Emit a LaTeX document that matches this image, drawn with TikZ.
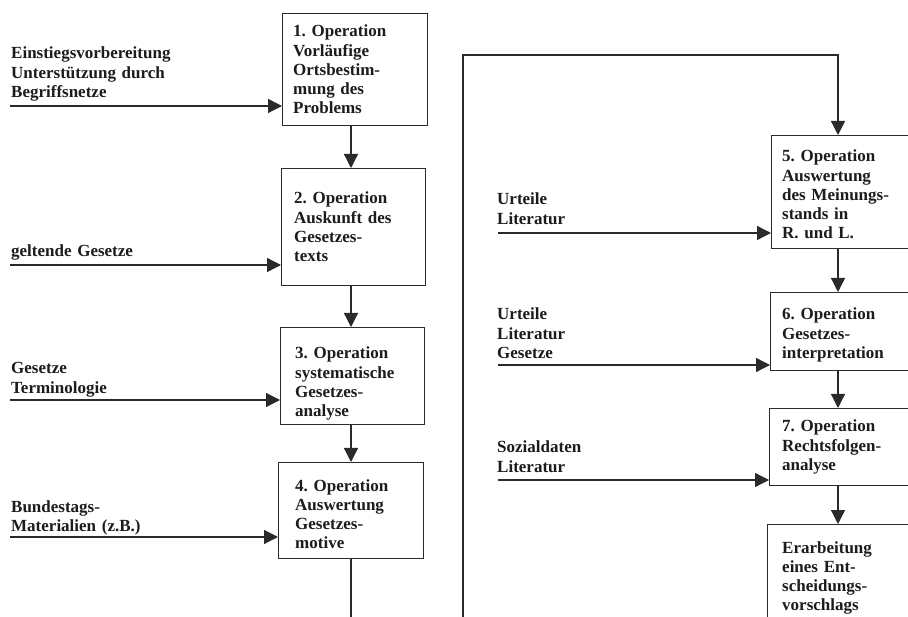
\documentclass[tikz,border=0pt]{standalone}
\usepackage{fontspec}
\setmainfont{Liberation Serif}
\usetikzlibrary{arrows.meta}
\definecolor{ink}{HTML}{2A2A2A}
\definecolor{txt}{HTML}{1C1C1C}
\frenchspacing
\begin{document}
\begin{tikzpicture}[x=1pt,y=-1pt,
  line/.style={draw=ink,line width=1.3pt},
  arr/.style={line,-{Triangle[length=14pt,width=14pt]}},
  frame/.style={line,rectangle,inner sep=0pt,anchor=north west},
  txtblock/.style={anchor=base west,inner sep=0pt,text width=150pt,align=left,
    text=txt,font=\bfseries\fontsize{17}{19.2}\selectfont}]
\clip (0,0) rectangle (908,617);
\fill[white] (0,0) rectangle (908,617);

% left column of operations
\node[frame,minimum width=145pt,minimum height=112pt] (b1) at (282,13) {};
\node[frame,minimum width=144pt,minimum height=117pt] (b2) at (281,168) {};
\node[frame,minimum width=144pt,minimum height=97pt]  (b3) at (280,327) {};
\node[frame,minimum width=145pt,minimum height=96pt]  (b4) at (278,462) {};

\node[txtblock] (t1) at (293,37)  {1. Operation\\Vorläufige\\Ortsbestim-\\mung des\\Problems};
\node[txtblock] (t2) at (294,204) {2. Operation\\Auskunft des\\Gesetzes-\\texts};
\node[txtblock] (t3) at (295,359) {3. Operation\\systematische\\Gesetzes-\\analyse};
\node[txtblock] (t4) at (295,491) {4. Operation\\Auswertung\\Gesetzes-\\motive};

% right column of operations
\node[frame,minimum width=160pt,minimum height=113pt] (b5) at (771,135) {};
\node[frame,minimum width=160pt,minimum height=78pt]  (b6) at (770,292) {};
\node[frame,minimum width=160pt,minimum height=77pt]  (b7) at (769,408) {};
\node[frame,minimum width=160pt,minimum height=108pt] (b8) at (767,524) {};

\node[txtblock] (t5) at (782,162) {5. Operation\\Auswertung\\des Meinungs-\\stands in\\R. und L.};
\node[txtblock] (t6) at (782,320) {6. Operation\\Gesetzes-\\interpretation};
\node[txtblock] (t7) at (782,432) {7. Operation\\Rechtsfolgen-\\analyse};
\node[txtblock] (t8) at (782,553) {Erarbeitung\\eines Ent-\\scheidungs-\\vorschlags};

% flow columns
\coordinate (lc) at (351,0);
\coordinate (rc) at (838,0);
\coordinate (loopturn) at (463,55);

\draw[arr] (lc |- b1.south) -- (lc |- b2.north);
\draw[arr] (lc |- b2.south) -- (lc |- b3.north);
\draw[arr] (lc |- b3.south) -- (lc |- b4.north);
\draw[arr] (lc |- b4.south) -- ++(0,100) -| (loopturn) -| (rc |- b5.north);
\draw[arr] (rc |- b5.south) -- (rc |- b6.north);
\draw[arr] (rc |- b6.south) -- (rc |- b7.north);
\draw[arr] (rc |- b7.south) -- (rc |- b8.north);

% inputs on the left
\coordinate (i1) at (10,106);
\coordinate (i2) at (10,265);
\coordinate (i3) at (10,400);
\coordinate (i4) at (10,537);
\draw[arr] (i1) -- (i1 -| b1.west);
\draw[arr] (i2) -- (i2 -| b2.west);
\draw[arr] (i3) -- (i3 -| b3.west);
\draw[arr] (i4) -- (i4 -| b4.west);

\node[txtblock,text width=250pt] (l1) at (11,59)  {Einstiegsvorbereitung\\Unterstützung durch\\Begriffsnetze};
\node[txtblock,text width=250pt] (l2) at (11,257) {geltende Gesetze};
\node[txtblock,text width=250pt] (l3) at (11,374) {Gesetze\\Terminologie};
\node[txtblock,text width=250pt] (l4) at (11,512) {Bundestags-\\Materialien (z.B.)};

% inputs on the right
\coordinate (i5) at (498,233);
\coordinate (i6) at (498,365);
\coordinate (i7) at (498,480);
\draw[arr] (i5) -- (i5 -| b5.west);
\draw[arr] (i6) -- (i6 -| b6.west);
\draw[arr] (i7) -- (i7 -| b7.west);

\node[txtblock] (l5) at (497,205) {Urteile\\Literatur};
\node[txtblock] (l6) at (497,320) {Urteile\\Literatur\\Gesetze};
\node[txtblock] (l7) at (497,453) {Sozialdaten\\Literatur};
\end{tikzpicture}
\end{document}
